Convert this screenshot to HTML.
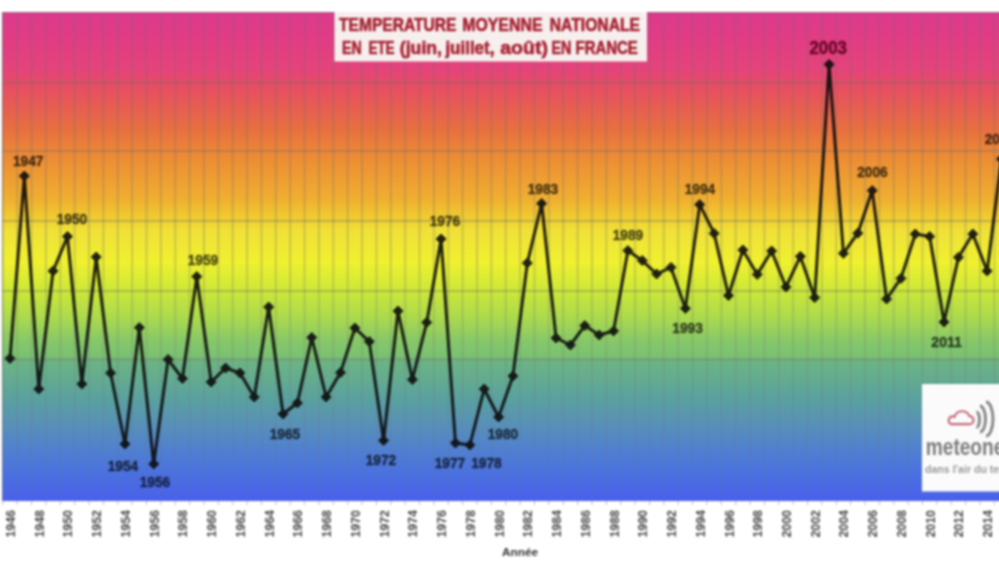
<!DOCTYPE html><html><head><meta charset="utf-8"><style>
html,body{margin:0;padding:0;background:#fff;width:999px;height:562px;overflow:hidden}
svg{display:block;filter:blur(0.85px)}
text{font-family:"Liberation Sans",sans-serif}
</style></head><body>
<svg width="1012" height="562" viewBox="0 0 1012 562">
<defs>
<linearGradient id="g" x1="0" y1="12" x2="0" y2="501" gradientUnits="userSpaceOnUse">
<stop offset="0.0000" stop-color="#dc3a8c"/>
<stop offset="0.0573" stop-color="#e23c84"/>
<stop offset="0.1186" stop-color="#e4447a"/>
<stop offset="0.1431" stop-color="#e84a66"/>
<stop offset="0.1595" stop-color="#e85060"/>
<stop offset="0.2004" stop-color="#e66050"/>
<stop offset="0.2413" stop-color="#e87040"/>
<stop offset="0.2924" stop-color="#ec8a35"/>
<stop offset="0.3845" stop-color="#f0b030"/>
<stop offset="0.4254" stop-color="#f0d030"/>
<stop offset="0.4458" stop-color="#f0e038"/>
<stop offset="0.5112" stop-color="#f0f030"/>
<stop offset="0.5706" stop-color="#cce838"/>
<stop offset="0.6299" stop-color="#a8d850"/>
<stop offset="0.6708" stop-color="#88c868"/>
<stop offset="0.7076" stop-color="#78c074"/>
<stop offset="0.7157" stop-color="#6cb484"/>
<stop offset="0.7935" stop-color="#5aa0a0"/>
<stop offset="0.8446" stop-color="#5890b8"/>
<stop offset="0.8957" stop-color="#5080d0"/>
<stop offset="0.9468" stop-color="#4a70e0"/>
<stop offset="1.0000" stop-color="#4a60ec"/>
</linearGradient>
<linearGradient id="vg" x1="0" y1="12" x2="0" y2="501" gradientUnits="userSpaceOnUse"><stop offset="0" stop-color="#6a6a6a" stop-opacity="0.24"/><stop offset="0.5" stop-color="#6a6a6a" stop-opacity="0.28"/><stop offset="0.75" stop-color="#6a6a6a" stop-opacity="0.16"/><stop offset="1" stop-color="#6a6a6a" stop-opacity="0.1"/></linearGradient>
<filter id="blur" x="-10%" y="-10%" width="120%" height="120%"><feGaussianBlur stdDeviation="0.6"/></filter>
</defs>

<rect x="2" y="12" width="1010" height="489" fill="url(#g)"/>
<path d="M2.5 501V12.5H1012" fill="none" stroke="#808080" stroke-opacity="0.55" stroke-width="1"/>
<path d="M2.82 12V501M17.18 12V501M31.55 12V501M45.92 12V501M60.29 12V501M74.66 12V501M89.03 12V501M103.40 12V501M117.77 12V501M132.14 12V501M146.51 12V501M160.88 12V501M175.25 12V501M189.62 12V501M203.99 12V501M218.36 12V501M232.73 12V501M247.10 12V501M261.47 12V501M275.84 12V501M290.21 12V501M304.58 12V501M318.95 12V501M333.32 12V501M347.69 12V501M362.06 12V501M376.44 12V501M390.80 12V501M405.17 12V501M419.54 12V501M433.91 12V501M448.28 12V501M462.65 12V501M477.02 12V501M491.39 12V501M505.76 12V501M520.13 12V501M534.50 12V501M548.88 12V501M563.25 12V501M577.62 12V501M591.99 12V501M606.36 12V501M620.73 12V501M635.10 12V501M649.47 12V501M663.84 12V501M678.21 12V501M692.58 12V501M706.95 12V501M721.32 12V501M735.69 12V501M750.06 12V501M764.43 12V501M778.79 12V501M793.16 12V501M807.53 12V501M821.90 12V501M836.27 12V501M850.64 12V501M865.01 12V501M879.38 12V501M893.75 12V501M908.12 12V501M922.50 12V501M936.87 12V501M951.24 12V501M965.61 12V501M979.98 12V501M994.35 12V501M1008.72 12V501" stroke="url(#vg)" stroke-width="2" fill="none"/>
<path d="M2 82.7H1012M2 151H1012M2 221H1012M2 291H1012M2 359.3H1012" stroke="#707070" stroke-opacity="0.36" stroke-width="2.2" fill="none"/>
<g opacity="0.9"><polyline points="10.00,358.40 24.37,176.00 38.74,389.00 53.11,271.00 67.48,236.50 81.85,384.00 96.22,257.00 110.59,373.00 124.96,444.00 139.33,327.60 153.70,464.00 168.07,359.50 182.44,378.50 196.81,276.60 211.18,382.00 225.55,368.00 239.92,373.00 254.29,397.00 268.66,307.00 283.03,414.00 297.40,403.00 311.77,337.50 326.14,397.00 340.51,372.60 354.88,328.00 369.25,341.60 383.62,440.50 397.99,311.00 412.36,379.60 426.73,322.40 441.10,239.00 455.47,443.00 469.84,445.00 484.21,389.00 498.58,417.00 512.95,376.00 527.32,263.00 541.69,203.50 556.06,338.00 570.43,345.00 584.80,325.60 599.17,335.00 613.54,331.00 627.91,250.60 642.28,260.60 656.65,274.00 671.02,267.40 685.39,308.40 699.76,204.60 714.13,233.40 728.50,295.50 742.87,250.00 757.24,274.40 771.61,251.00 785.98,287.00 800.35,256.40 814.72,297.60 829.09,64.40 843.46,253.30 857.83,233.20 872.20,190.60 886.57,299.00 900.94,278.40 915.31,234.00 929.68,236.50 944.05,322.00 958.42,257.30 972.79,234.00 987.16,271.00 1001.53,159.00" fill="none" stroke="#0c0c0c" stroke-width="3" stroke-linejoin="round"/>
<path d="M10.00 353.40L15.00 358.40L10.00 363.40L5.00 358.40ZM24.37 171.00L29.37 176.00L24.37 181.00L19.37 176.00ZM38.74 384.00L43.74 389.00L38.74 394.00L33.74 389.00ZM53.11 266.00L58.11 271.00L53.11 276.00L48.11 271.00ZM67.48 231.50L72.48 236.50L67.48 241.50L62.48 236.50ZM81.85 379.00L86.85 384.00L81.85 389.00L76.85 384.00ZM96.22 252.00L101.22 257.00L96.22 262.00L91.22 257.00ZM110.59 368.00L115.59 373.00L110.59 378.00L105.59 373.00ZM124.96 439.00L129.96 444.00L124.96 449.00L119.96 444.00ZM139.33 322.60L144.33 327.60L139.33 332.60L134.33 327.60ZM153.70 459.00L158.70 464.00L153.70 469.00L148.70 464.00ZM168.07 354.50L173.07 359.50L168.07 364.50L163.07 359.50ZM182.44 373.50L187.44 378.50L182.44 383.50L177.44 378.50ZM196.81 271.60L201.81 276.60L196.81 281.60L191.81 276.60ZM211.18 377.00L216.18 382.00L211.18 387.00L206.18 382.00ZM225.55 363.00L230.55 368.00L225.55 373.00L220.55 368.00ZM239.92 368.00L244.92 373.00L239.92 378.00L234.92 373.00ZM254.29 392.00L259.29 397.00L254.29 402.00L249.29 397.00ZM268.66 302.00L273.66 307.00L268.66 312.00L263.66 307.00ZM283.03 409.00L288.03 414.00L283.03 419.00L278.03 414.00ZM297.40 398.00L302.40 403.00L297.40 408.00L292.40 403.00ZM311.77 332.50L316.77 337.50L311.77 342.50L306.77 337.50ZM326.14 392.00L331.14 397.00L326.14 402.00L321.14 397.00ZM340.51 367.60L345.51 372.60L340.51 377.60L335.51 372.60ZM354.88 323.00L359.88 328.00L354.88 333.00L349.88 328.00ZM369.25 336.60L374.25 341.60L369.25 346.60L364.25 341.60ZM383.62 435.50L388.62 440.50L383.62 445.50L378.62 440.50ZM397.99 306.00L402.99 311.00L397.99 316.00L392.99 311.00ZM412.36 374.60L417.36 379.60L412.36 384.60L407.36 379.60ZM426.73 317.40L431.73 322.40L426.73 327.40L421.73 322.40ZM441.10 234.00L446.10 239.00L441.10 244.00L436.10 239.00ZM455.47 438.00L460.47 443.00L455.47 448.00L450.47 443.00ZM469.84 440.00L474.84 445.00L469.84 450.00L464.84 445.00ZM484.21 384.00L489.21 389.00L484.21 394.00L479.21 389.00ZM498.58 412.00L503.58 417.00L498.58 422.00L493.58 417.00ZM512.95 371.00L517.95 376.00L512.95 381.00L507.95 376.00ZM527.32 258.00L532.32 263.00L527.32 268.00L522.32 263.00ZM541.69 198.50L546.69 203.50L541.69 208.50L536.69 203.50ZM556.06 333.00L561.06 338.00L556.06 343.00L551.06 338.00ZM570.43 340.00L575.43 345.00L570.43 350.00L565.43 345.00ZM584.80 320.60L589.80 325.60L584.80 330.60L579.80 325.60ZM599.17 330.00L604.17 335.00L599.17 340.00L594.17 335.00ZM613.54 326.00L618.54 331.00L613.54 336.00L608.54 331.00ZM627.91 245.60L632.91 250.60L627.91 255.60L622.91 250.60ZM642.28 255.60L647.28 260.60L642.28 265.60L637.28 260.60ZM656.65 269.00L661.65 274.00L656.65 279.00L651.65 274.00ZM671.02 262.40L676.02 267.40L671.02 272.40L666.02 267.40ZM685.39 303.40L690.39 308.40L685.39 313.40L680.39 308.40ZM699.76 199.60L704.76 204.60L699.76 209.60L694.76 204.60ZM714.13 228.40L719.13 233.40L714.13 238.40L709.13 233.40ZM728.50 290.50L733.50 295.50L728.50 300.50L723.50 295.50ZM742.87 245.00L747.87 250.00L742.87 255.00L737.87 250.00ZM757.24 269.40L762.24 274.40L757.24 279.40L752.24 274.40ZM771.61 246.00L776.61 251.00L771.61 256.00L766.61 251.00ZM785.98 282.00L790.98 287.00L785.98 292.00L780.98 287.00ZM800.35 251.40L805.35 256.40L800.35 261.40L795.35 256.40ZM814.72 292.60L819.72 297.60L814.72 302.60L809.72 297.60ZM829.09 59.40L834.09 64.40L829.09 69.40L824.09 64.40ZM843.46 248.30L848.46 253.30L843.46 258.30L838.46 253.30ZM857.83 228.20L862.83 233.20L857.83 238.20L852.83 233.20ZM872.20 185.60L877.20 190.60L872.20 195.60L867.20 190.60ZM886.57 294.00L891.57 299.00L886.57 304.00L881.57 299.00ZM900.94 273.40L905.94 278.40L900.94 283.40L895.94 278.40ZM915.31 229.00L920.31 234.00L915.31 239.00L910.31 234.00ZM929.68 231.50L934.68 236.50L929.68 241.50L924.68 236.50ZM944.05 317.00L949.05 322.00L944.05 327.00L939.05 322.00ZM958.42 252.30L963.42 257.30L958.42 262.30L953.42 257.30ZM972.79 229.00L977.79 234.00L972.79 239.00L967.79 234.00ZM987.16 266.00L992.16 271.00L987.16 276.00L982.16 271.00ZM1001.53 154.00L1006.53 159.00L1001.53 164.00L996.53 159.00Z" fill="#0c0c0c" stroke="#0c0c0c" stroke-width="1" stroke-linejoin="round"/></g>
<g filter="url(#blur)">
<text x="28.2" y="166.0" font-size="14.5" font-weight="bold" text-anchor="middle" textLength="30.5" lengthAdjust="spacingAndGlyphs" fill="#000" fill-opacity="0.68" stroke="#000" stroke-opacity="0.55" stroke-width="0.45">1947</text>
<text x="72" y="224.4" font-size="14.5" font-weight="bold" text-anchor="middle" textLength="30.5" lengthAdjust="spacingAndGlyphs" fill="#000" fill-opacity="0.68" stroke="#000" stroke-opacity="0.55" stroke-width="0.45">1950</text>
<text x="123" y="470.6" font-size="14.5" font-weight="bold" text-anchor="middle" textLength="30.5" lengthAdjust="spacingAndGlyphs" fill="#000" fill-opacity="0.68" stroke="#000" stroke-opacity="0.55" stroke-width="0.45">1954</text>
<text x="155" y="486.6" font-size="14.5" font-weight="bold" text-anchor="middle" textLength="30.5" lengthAdjust="spacingAndGlyphs" fill="#000" fill-opacity="0.68" stroke="#000" stroke-opacity="0.55" stroke-width="0.45">1956</text>
<text x="203" y="265.4" font-size="14.5" font-weight="bold" text-anchor="middle" textLength="30.5" lengthAdjust="spacingAndGlyphs" fill="#000" fill-opacity="0.68" stroke="#000" stroke-opacity="0.55" stroke-width="0.45">1959</text>
<text x="285" y="439.0" font-size="14.5" font-weight="bold" text-anchor="middle" textLength="30.5" lengthAdjust="spacingAndGlyphs" fill="#000" fill-opacity="0.68" stroke="#000" stroke-opacity="0.55" stroke-width="0.45">1965</text>
<text x="381" y="464.6" font-size="14.5" font-weight="bold" text-anchor="middle" textLength="30.5" lengthAdjust="spacingAndGlyphs" fill="#000" fill-opacity="0.68" stroke="#000" stroke-opacity="0.55" stroke-width="0.45">1972</text>
<text x="445" y="225.6" font-size="14.5" font-weight="bold" text-anchor="middle" textLength="30.5" lengthAdjust="spacingAndGlyphs" fill="#000" fill-opacity="0.68" stroke="#000" stroke-opacity="0.55" stroke-width="0.45">1976</text>
<text x="450" y="468.0" font-size="14.5" font-weight="bold" text-anchor="middle" textLength="30.5" lengthAdjust="spacingAndGlyphs" fill="#000" fill-opacity="0.68" stroke="#000" stroke-opacity="0.55" stroke-width="0.45">1977</text>
<text x="486.4" y="468.0" font-size="14.5" font-weight="bold" text-anchor="middle" textLength="30.5" lengthAdjust="spacingAndGlyphs" fill="#000" fill-opacity="0.68" stroke="#000" stroke-opacity="0.55" stroke-width="0.45">1978</text>
<text x="503" y="438.6" font-size="14.5" font-weight="bold" text-anchor="middle" textLength="30.5" lengthAdjust="spacingAndGlyphs" fill="#000" fill-opacity="0.68" stroke="#000" stroke-opacity="0.55" stroke-width="0.45">1980</text>
<text x="543" y="193.5" font-size="14.5" font-weight="bold" text-anchor="middle" textLength="30.5" lengthAdjust="spacingAndGlyphs" fill="#000" fill-opacity="0.68" stroke="#000" stroke-opacity="0.55" stroke-width="0.45">1983</text>
<text x="628" y="240.4" font-size="14.5" font-weight="bold" text-anchor="middle" textLength="30.5" lengthAdjust="spacingAndGlyphs" fill="#000" fill-opacity="0.68" stroke="#000" stroke-opacity="0.55" stroke-width="0.45">1989</text>
<text x="687.6" y="333.0" font-size="14.5" font-weight="bold" text-anchor="middle" textLength="30.5" lengthAdjust="spacingAndGlyphs" fill="#000" fill-opacity="0.68" stroke="#000" stroke-opacity="0.55" stroke-width="0.45">1993</text>
<text x="700" y="194.0" font-size="14.5" font-weight="bold" text-anchor="middle" textLength="30.5" lengthAdjust="spacingAndGlyphs" fill="#000" fill-opacity="0.68" stroke="#000" stroke-opacity="0.55" stroke-width="0.45">1994</text>
<text x="872.4" y="177.0" font-size="14.5" font-weight="bold" text-anchor="middle" textLength="30.5" lengthAdjust="spacingAndGlyphs" fill="#000" fill-opacity="0.68" stroke="#000" stroke-opacity="0.55" stroke-width="0.45">2006</text>
<text x="946.6" y="347.0" font-size="14.5" font-weight="bold" text-anchor="middle" textLength="30.5" lengthAdjust="spacingAndGlyphs" fill="#000" fill-opacity="0.68" stroke="#000" stroke-opacity="0.55" stroke-width="0.45">2011</text>
<text x="1000" y="144.0" font-size="14.5" font-weight="bold" text-anchor="middle" textLength="30.5" lengthAdjust="spacingAndGlyphs" fill="#000" fill-opacity="0.68" stroke="#000" stroke-opacity="0.55" stroke-width="0.45">2015</text>
<text x="828.2" y="54.2" font-size="18.5" font-weight="bold" text-anchor="middle" textLength="37.5" lengthAdjust="spacingAndGlyphs" fill="#6a0828" stroke="#6a0828" stroke-width="0.5">2003</text>
</g>
<rect x="334.5" y="12" width="312.5" height="49.5" fill="#f6efee"/>
<g filter="url(#blur)">
<text x="339" y="31" font-size="18.5" font-weight="bold" textLength="117.5" lengthAdjust="spacingAndGlyphs" fill="#a82232" stroke="#a82232" stroke-width="0.6">TEMPERATURE</text>
<text x="462.2" y="31" font-size="18.5" font-weight="bold" textLength="80.3" lengthAdjust="spacingAndGlyphs" fill="#a82232" stroke="#a82232" stroke-width="0.6">MOYENNE</text>
<text x="549.8" y="31" font-size="18.5" font-weight="bold" textLength="90.2" lengthAdjust="spacingAndGlyphs" fill="#a82232" stroke="#a82232" stroke-width="0.6">NATIONALE</text>
<text x="342" y="54.2" font-size="18" font-weight="bold" textLength="19.8" lengthAdjust="spacingAndGlyphs" fill="#a82232" stroke="#a82232" stroke-width="0.6">EN</text>
<text x="368.4" y="54.2" font-size="18" font-weight="bold" textLength="26.2" lengthAdjust="spacingAndGlyphs" fill="#a82232" stroke="#a82232" stroke-width="0.6">ETE</text>
<text x="399.8" y="54.2" font-size="18" font-weight="bold" textLength="42.2" lengthAdjust="spacingAndGlyphs" fill="#a82232" stroke="#a82232" stroke-width="0.6">(juin,</text>
<text x="445.4" y="54.2" font-size="18" font-weight="bold" textLength="49.0" lengthAdjust="spacingAndGlyphs" fill="#a82232" stroke="#a82232" stroke-width="0.6">juillet,</text>
<text x="500.2" y="54.2" font-size="18" font-weight="bold" textLength="47.8" lengthAdjust="spacingAndGlyphs" fill="#a82232" stroke="#a82232" stroke-width="0.6">août)</text>
<text x="551.5" y="54.2" font-size="18" font-weight="bold" textLength="19.9" lengthAdjust="spacingAndGlyphs" fill="#a82232" stroke="#a82232" stroke-width="0.6">EN</text>
<text x="575.5" y="54.2" font-size="18" font-weight="bold" textLength="62.3" lengthAdjust="spacingAndGlyphs" fill="#a82232" stroke="#a82232" stroke-width="0.6">FRANCE</text>
</g>
<path d="M2.82 501V505M17.18 501V505M31.55 501V505M45.92 501V505M60.29 501V505M74.66 501V505M89.03 501V505M103.40 501V505M117.77 501V505M132.14 501V505M146.51 501V505M160.88 501V505M175.25 501V505M189.62 501V505M203.99 501V505M218.36 501V505M232.73 501V505M247.10 501V505M261.47 501V505M275.84 501V505M290.21 501V505M304.58 501V505M318.95 501V505M333.32 501V505M347.69 501V505M362.06 501V505M376.44 501V505M390.80 501V505M405.17 501V505M419.54 501V505M433.91 501V505M448.28 501V505M462.65 501V505M477.02 501V505M491.39 501V505M505.76 501V505M520.13 501V505M534.50 501V505M548.88 501V505M563.25 501V505M577.62 501V505M591.99 501V505M606.36 501V505M620.73 501V505M635.10 501V505M649.47 501V505M663.84 501V505M678.21 501V505M692.58 501V505M706.95 501V505M721.32 501V505M735.69 501V505M750.06 501V505M764.43 501V505M778.79 501V505M793.16 501V505M807.53 501V505M821.90 501V505M836.27 501V505M850.64 501V505M865.01 501V505M879.38 501V505M893.75 501V505M908.12 501V505M922.50 501V505M936.87 501V505M951.24 501V505M965.61 501V505M979.98 501V505M994.35 501V505M1008.72 501V505" stroke="#bbb" stroke-width="1" fill="none"/>
<g filter="url(#blur)">
<text transform="translate(15.00,537.5) rotate(-90)" font-size="12" font-weight="bold" textLength="27.5" lengthAdjust="spacingAndGlyphs" fill="#4a4a4a">1946</text>
<text transform="translate(43.74,537.5) rotate(-90)" font-size="12" font-weight="bold" textLength="27.5" lengthAdjust="spacingAndGlyphs" fill="#4a4a4a">1948</text>
<text transform="translate(72.48,537.5) rotate(-90)" font-size="12" font-weight="bold" textLength="27.5" lengthAdjust="spacingAndGlyphs" fill="#4a4a4a">1950</text>
<text transform="translate(101.22,537.5) rotate(-90)" font-size="12" font-weight="bold" textLength="27.5" lengthAdjust="spacingAndGlyphs" fill="#4a4a4a">1952</text>
<text transform="translate(129.96,537.5) rotate(-90)" font-size="12" font-weight="bold" textLength="27.5" lengthAdjust="spacingAndGlyphs" fill="#4a4a4a">1954</text>
<text transform="translate(158.70,537.5) rotate(-90)" font-size="12" font-weight="bold" textLength="27.5" lengthAdjust="spacingAndGlyphs" fill="#4a4a4a">1956</text>
<text transform="translate(187.44,537.5) rotate(-90)" font-size="12" font-weight="bold" textLength="27.5" lengthAdjust="spacingAndGlyphs" fill="#4a4a4a">1958</text>
<text transform="translate(216.18,537.5) rotate(-90)" font-size="12" font-weight="bold" textLength="27.5" lengthAdjust="spacingAndGlyphs" fill="#4a4a4a">1960</text>
<text transform="translate(244.92,537.5) rotate(-90)" font-size="12" font-weight="bold" textLength="27.5" lengthAdjust="spacingAndGlyphs" fill="#4a4a4a">1962</text>
<text transform="translate(273.66,537.5) rotate(-90)" font-size="12" font-weight="bold" textLength="27.5" lengthAdjust="spacingAndGlyphs" fill="#4a4a4a">1964</text>
<text transform="translate(302.40,537.5) rotate(-90)" font-size="12" font-weight="bold" textLength="27.5" lengthAdjust="spacingAndGlyphs" fill="#4a4a4a">1966</text>
<text transform="translate(331.14,537.5) rotate(-90)" font-size="12" font-weight="bold" textLength="27.5" lengthAdjust="spacingAndGlyphs" fill="#4a4a4a">1968</text>
<text transform="translate(359.88,537.5) rotate(-90)" font-size="12" font-weight="bold" textLength="27.5" lengthAdjust="spacingAndGlyphs" fill="#4a4a4a">1970</text>
<text transform="translate(388.62,537.5) rotate(-90)" font-size="12" font-weight="bold" textLength="27.5" lengthAdjust="spacingAndGlyphs" fill="#4a4a4a">1972</text>
<text transform="translate(417.36,537.5) rotate(-90)" font-size="12" font-weight="bold" textLength="27.5" lengthAdjust="spacingAndGlyphs" fill="#4a4a4a">1974</text>
<text transform="translate(446.10,537.5) rotate(-90)" font-size="12" font-weight="bold" textLength="27.5" lengthAdjust="spacingAndGlyphs" fill="#4a4a4a">1976</text>
<text transform="translate(474.84,537.5) rotate(-90)" font-size="12" font-weight="bold" textLength="27.5" lengthAdjust="spacingAndGlyphs" fill="#4a4a4a">1978</text>
<text transform="translate(503.58,537.5) rotate(-90)" font-size="12" font-weight="bold" textLength="27.5" lengthAdjust="spacingAndGlyphs" fill="#4a4a4a">1980</text>
<text transform="translate(532.32,537.5) rotate(-90)" font-size="12" font-weight="bold" textLength="27.5" lengthAdjust="spacingAndGlyphs" fill="#4a4a4a">1982</text>
<text transform="translate(561.06,537.5) rotate(-90)" font-size="12" font-weight="bold" textLength="27.5" lengthAdjust="spacingAndGlyphs" fill="#4a4a4a">1984</text>
<text transform="translate(589.80,537.5) rotate(-90)" font-size="12" font-weight="bold" textLength="27.5" lengthAdjust="spacingAndGlyphs" fill="#4a4a4a">1986</text>
<text transform="translate(618.54,537.5) rotate(-90)" font-size="12" font-weight="bold" textLength="27.5" lengthAdjust="spacingAndGlyphs" fill="#4a4a4a">1988</text>
<text transform="translate(647.28,537.5) rotate(-90)" font-size="12" font-weight="bold" textLength="27.5" lengthAdjust="spacingAndGlyphs" fill="#4a4a4a">1990</text>
<text transform="translate(676.02,537.5) rotate(-90)" font-size="12" font-weight="bold" textLength="27.5" lengthAdjust="spacingAndGlyphs" fill="#4a4a4a">1992</text>
<text transform="translate(704.76,537.5) rotate(-90)" font-size="12" font-weight="bold" textLength="27.5" lengthAdjust="spacingAndGlyphs" fill="#4a4a4a">1994</text>
<text transform="translate(733.50,537.5) rotate(-90)" font-size="12" font-weight="bold" textLength="27.5" lengthAdjust="spacingAndGlyphs" fill="#4a4a4a">1996</text>
<text transform="translate(762.24,537.5) rotate(-90)" font-size="12" font-weight="bold" textLength="27.5" lengthAdjust="spacingAndGlyphs" fill="#4a4a4a">1998</text>
<text transform="translate(790.98,537.5) rotate(-90)" font-size="12" font-weight="bold" textLength="27.5" lengthAdjust="spacingAndGlyphs" fill="#4a4a4a">2000</text>
<text transform="translate(819.72,537.5) rotate(-90)" font-size="12" font-weight="bold" textLength="27.5" lengthAdjust="spacingAndGlyphs" fill="#4a4a4a">2002</text>
<text transform="translate(848.46,537.5) rotate(-90)" font-size="12" font-weight="bold" textLength="27.5" lengthAdjust="spacingAndGlyphs" fill="#4a4a4a">2004</text>
<text transform="translate(877.20,537.5) rotate(-90)" font-size="12" font-weight="bold" textLength="27.5" lengthAdjust="spacingAndGlyphs" fill="#4a4a4a">2006</text>
<text transform="translate(905.94,537.5) rotate(-90)" font-size="12" font-weight="bold" textLength="27.5" lengthAdjust="spacingAndGlyphs" fill="#4a4a4a">2008</text>
<text transform="translate(934.68,537.5) rotate(-90)" font-size="12" font-weight="bold" textLength="27.5" lengthAdjust="spacingAndGlyphs" fill="#4a4a4a">2010</text>
<text transform="translate(963.42,537.5) rotate(-90)" font-size="12" font-weight="bold" textLength="27.5" lengthAdjust="spacingAndGlyphs" fill="#4a4a4a">2012</text>
<text transform="translate(992.16,537.5) rotate(-90)" font-size="12" font-weight="bold" textLength="27.5" lengthAdjust="spacingAndGlyphs" fill="#4a4a4a">2014</text>
<text x="502" y="556" font-size="10" font-weight="bold" textLength="36" lengthAdjust="spacingAndGlyphs" fill="#333">Année</text>
</g>
<rect x="922" y="384" width="92" height="107.5" fill="#fbfbfb"/>
<g filter="url(#blur)">
<path d="M951 424.2H969.5A4 4 0 0 0 969.5 416.2A8 8 0 0 0 954.5 416.8A3.7 3.7 0 0 0 951 424.2Z" fill="none" stroke="#c46a78" stroke-width="2.2"/>
<path d="M976.5 412A3 7.75 0 0 1 976.5 427.5M980 406A5.5 13 0 0 1 980 432M986 402A7 17 0 0 1 986 436" fill="none" stroke="#858585" stroke-width="2.9"/>
<text x="925.8" y="455" font-size="24" font-weight="bold" textLength="104" lengthAdjust="spacingAndGlyphs" fill="#7c7c7c">meteonews</text>
<text x="925" y="473" font-size="10.5" font-weight="bold" textLength="96" lengthAdjust="spacingAndGlyphs" fill="#9a9a9a">dans l'air du temps</text>
</g>
</svg></body></html>
